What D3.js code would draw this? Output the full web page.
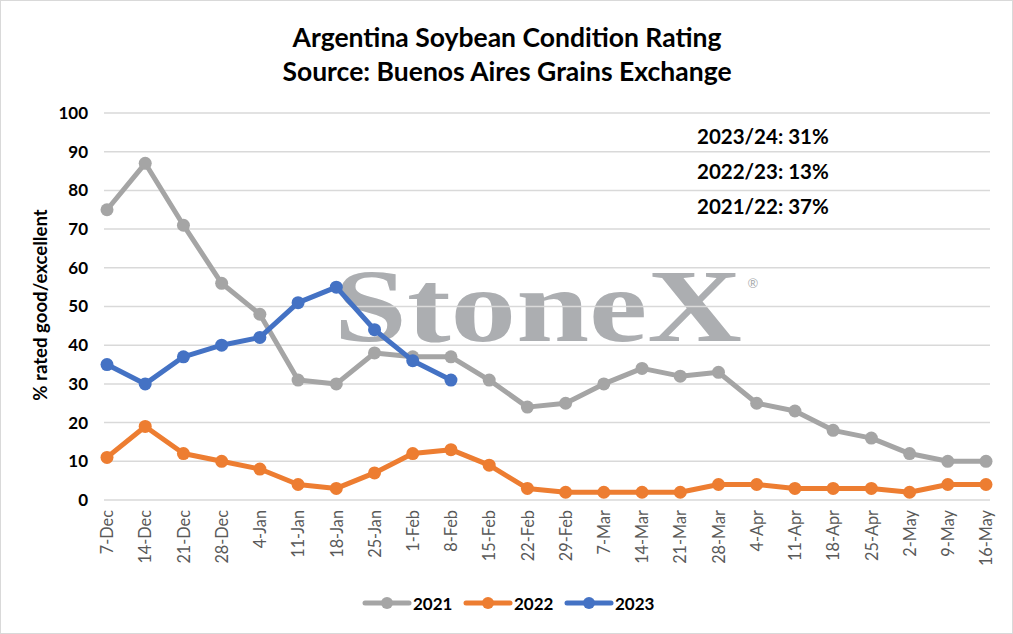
<!DOCTYPE html>
<html>
<head>
<meta charset="utf-8">
<script src="https://cdn.jsdelivr.net/npm/d3@7"></script>
<style>
  body { margin: 0; background: #fff; }
  text { font-family: Lato, "Open Sans", sans-serif; }
</style>
</head>
<body>
<svg id="chart" width="1013" height="634"></svg>
<script>
var weeks = ["7-Dec", "14-Dec", "21-Dec", "28-Dec", "4-Jan", "11-Jan", "18-Jan", "25-Jan", "1-Feb", "8-Feb",
    "15-Feb", "22-Feb", "29-Feb", "7-Mar", "14-Mar", "21-Mar", "28-Mar", "4-Apr", "11-Apr", "18-Apr",
    "25-Apr", "2-May", "9-May", "16-May"];
var values2021 = [75, 87, 71, 56, 48, 31, 30, 38, 37, 37, 31, 24, 25, 30, 34, 32, 33, 25, 23, 18, 16, 12, 10, 10];
var values2022 = [11, 19, 12, 10, 8, 4, 3, 7, 12, 13, 9, 3, 2, 2, 2, 2, 4, 4, 3, 3, 3, 2, 4, 4];
var values2023 = [35, 30, 37, 40, 42, 51, 55, 44, 36, 31];
var seriesNames = ["2021", "2022", "2023"];
var yTicks = [0, 10, 20, 30, 40, 50, 60, 70, 80, 90, 100];
var notes = ["2023/24: 31%", "2022/23: 13%", "2021/22: 37%"];

var colors = ["#a5a5a5", "#ed7d31", "#4472c4"];
var allSeries = [values2021, values2022, values2023];

var svg = d3.select("#chart");

// outer border
svg.append("rect")
    .attr("x", 0.5).attr("y", 0.5)
    .attr("width", 1012).attr("height", 633)
    .attr("fill", "#fff")
    .attr("stroke", "#d9d9d9");

var x = d3.scalePoint().domain(weeks).range([107, 986]);
var y = d3.scaleLinear().domain([0, 100]).range([500, 113]);

// title
svg.append("text")
    .attr("x", 507).attr("y", 47)
    .attr("text-anchor", "middle")
    .style("font-size", "26.5px").style("font-weight", "bold")
    .text("Argentina Soybean Condition Rating");
svg.append("text")
    .attr("x", 507).attr("y", 81)
    .attr("text-anchor", "middle")
    .style("font-size", "26.5px").style("font-weight", "bold")
    .text("Source: Buenos Aires Grains Exchange");

// watermark behind the gridlines
svg.append("text")
    .attr("x", 334).attr("y", 341)
    .attr("textLength", 408)
    .attr("lengthAdjust", "spacingAndGlyphs")
    .style("font-family", "'Liberation Serif', 'DejaVu Serif', serif")
    .style("font-size", "104px").style("font-weight", "bold")
    .attr("fill", "#acaeb1")
    .text("StoneX");
svg.append("text")
    .attr("x", 753).attr("y", 288)
    .attr("text-anchor", "middle")
    .style("font-size", "13px")
    .attr("fill", "#acaeb1")
    .text("®");

// gridlines
svg.append("g")
    .selectAll("line")
    .data(yTicks)
    .enter()
    .append("line")
    .attr("x1", 104).attr("x2", 990)
    .attr("y1", function (d) { return y(d); })
    .attr("y2", function (d) { return y(d); })
    .attr("stroke", "#d9d9d9")
    .attr("stroke-width", 1.5);

// y axis
var yAxis = d3.axisLeft(y).tickValues(yTicks).tickSize(0).tickPadding(0);
var yG = svg.append("g")
    .attr("transform", "translate(88,0)")
    .call(yAxis);
yG.select(".domain").remove();
yG.selectAll("text")
    .style("font-family", "Lato, 'Open Sans', sans-serif")
    .style("font-size", "17px").style("font-weight", "bold")
    .attr("fill", "#000");

// x axis
var xAxis = d3.axisBottom(x).tickSize(0).tickPadding(0);
var xG = svg.append("g")
    .attr("transform", "translate(0,500)")
    .call(xAxis);
xG.select(".domain").remove();
xG.selectAll("text")
    .style("font-family", "Lato, 'Open Sans', sans-serif")
    .style("font-size", "16.3px")
    .attr("fill", "#595959")
    .attr("text-anchor", "end")
    .attr("dy", "0.35em")
    .attr("transform", "translate(0,10) rotate(-90)")
    .attr("x", 0).attr("y", 0);

// y axis title
svg.append("text")
    .attr("transform", "translate(47,305) rotate(-90)")
    .attr("text-anchor", "middle")
    .style("font-size", "18.6px").style("font-weight", "bold")
    .text("% rated good/excellent");

// lines
var line = d3.line()
    .x(function (d, i) { return x(weeks[i]); })
    .y(function (d) { return y(d); });

allSeries.forEach(function (vals, s) {
    svg.append("path")
        .datum(vals)
        .attr("d", line)
        .attr("fill", "none")
        .attr("stroke", colors[s])
        .attr("stroke-width", 5)
        .attr("stroke-linejoin", "round");
    svg.append("g")
        .selectAll("circle")
        .data(vals)
        .enter()
        .append("circle")
        .attr("cx", function (d, i) { return x(weeks[i]); })
        .attr("cy", function (d) { return y(d); })
        .attr("r", 6.5)
        .attr("fill", colors[s]);
});

// notes
svg.append("g")
    .selectAll("text")
    .data(notes)
    .enter()
    .append("text")
    .attr("x", 697)
    .attr("y", function (d, i) { return 144 + i * 35; })
    .style("font-size", "20.5px").style("font-weight", "bold")
    .text(function (d) { return d; });

// legend
var legendX = [365, 466, 567];
seriesNames.forEach(function (name, s) {
    var g = svg.append("g").attr("transform", "translate(" + legendX[s] + ",603)");
    g.append("line")
        .attr("x1", 0).attr("x2", 44)
        .attr("stroke", colors[s]).attr("stroke-width", 5)
        .attr("stroke-linecap", "round");
    g.append("circle")
        .attr("cx", 22).attr("r", 6)
        .attr("fill", colors[s]);
    g.append("text")
        .attr("x", 48).attr("y", 6.5)
        .style("font-size", "17px").style("font-weight", "bold")
        .text(name);
});
</script>
</body>
</html>
